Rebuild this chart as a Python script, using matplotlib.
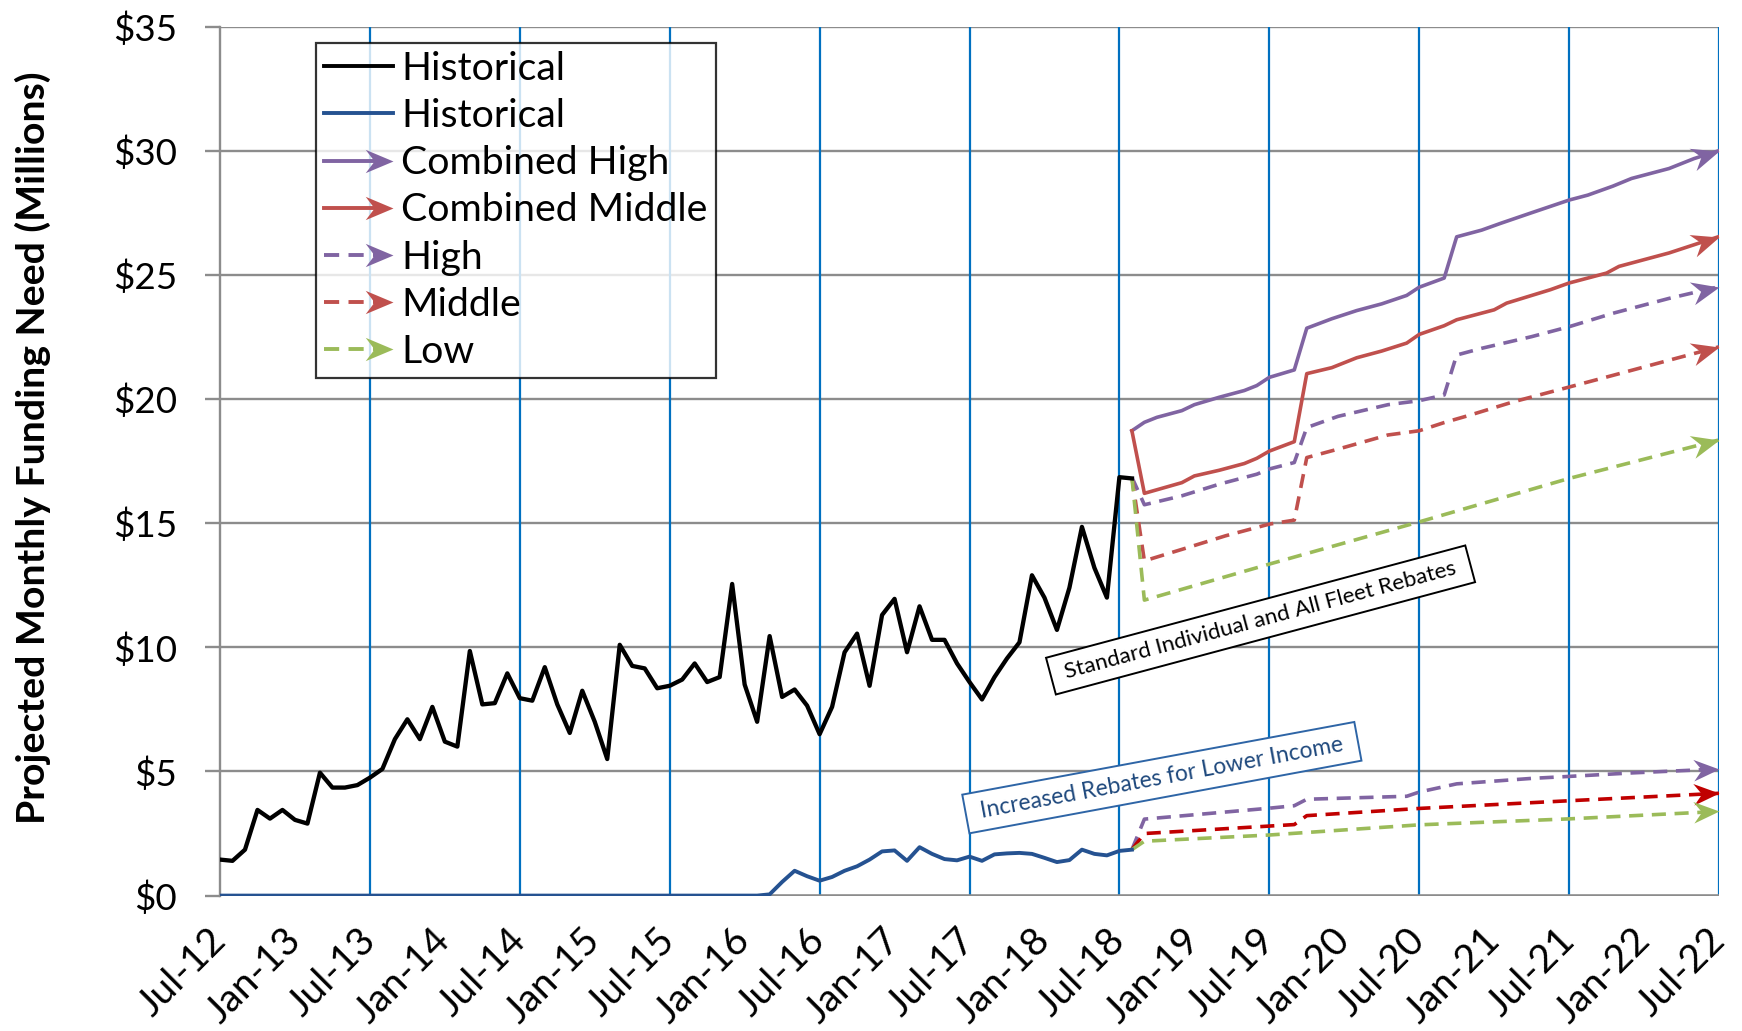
import numpy as np
import matplotlib
matplotlib.use('Agg')
import matplotlib.pyplot as plt
from matplotlib.path import Path
from matplotlib.markers import MarkerStyle
from matplotlib.transforms import Affine2D
from matplotlib.lines import Line2D
from matplotlib.legend_handler import HandlerBase

plt.rcParams['font.family'] = ['Lato', 'DejaVu Sans']

# ---------------- data ----------------
tick_labels = ['Jul-12', 'Jan-13', 'Jul-13', 'Jan-14', 'Jul-14', 'Jan-15', 'Jul-15',
               'Jan-16', 'Jul-16', 'Jan-17', 'Jul-17', 'Jan-18', 'Jul-18', 'Jan-19',
               'Jul-19', 'Jan-20', 'Jul-20', 'Jan-21', 'Jul-21', 'Jan-22', 'Jul-22']

# monthly history, Jul-12 .. Aug-18 (month index 0..73)
hist_black = [1.45, 1.4, 1.85, 3.45, 3.1, 3.45, 3.05, 2.9, 4.95, 4.35, 4.35, 4.45,
              4.75, 5.1, 6.3, 7.1, 6.3, 7.6, 6.2, 6.0, 9.85, 7.7, 7.75, 8.95,
              7.95, 7.85, 9.2, 7.7, 6.55, 8.25, 7.0, 5.5, 10.1, 9.25, 9.15, 8.35,
              8.45, 8.7, 9.35, 8.6, 8.8, 12.55, 8.5, 7.0, 10.45, 8.0, 8.3, 7.65,
              6.5, 7.6, 9.8, 10.55, 8.45, 11.3, 11.95, 9.8, 11.65, 10.3, 10.3, 9.35,
              8.6, 7.9, 8.8, 9.55, 10.2, 12.9, 12.0, 10.7, 12.4, 14.85, 13.2, 12.0,
              16.85, 16.8]
hist_blue = [0.0] * 44 + [0.05, 0.55, 1.0, 0.78, 0.6, 0.75, 1.0, 1.18, 1.45, 1.78,
                          1.82, 1.4, 1.95, 1.68, 1.47, 1.42, 1.57, 1.4, 1.66, 1.7,
                          1.72, 1.68, 1.52, 1.35, 1.43, 1.85, 1.68, 1.62, 1.8, 1.85]

# projections (month index, $M)
comb_high_m = [73, 74, 75, 77, 78, 80, 82, 83, 84, 86, 87, 89, 91, 93, 95, 96, 98,
               99, 101, 102.5, 105, 108, 109.5, 111.5, 113, 116, 118, 120]
comb_high_v = [18.72, 19.06, 19.26, 19.53, 19.77, 20.07, 20.34, 20.54, 20.87, 21.17,
               22.85, 23.23, 23.56, 23.83, 24.17, 24.5, 24.87,
               26.53, 26.8, 27.07, 27.5, 28.01, 28.21, 28.57, 28.88, 29.28, 29.68, 30.0]

comb_mid_m = [73, 74, 77, 78, 80, 82, 83, 84, 86, 87, 89, 91, 93, 95, 96, 98, 99,
              102, 103, 106.5, 108, 111, 112, 116, 118, 120]
comb_mid_v = [18.72, 16.2, 16.63, 16.9, 17.13, 17.4, 17.61, 17.9, 18.28, 21.02,
              21.26, 21.66, 21.93, 22.25, 22.6, 22.95, 23.19, 23.59, 23.86, 24.4,
              24.67, 25.07, 25.34, 25.88, 26.21, 26.54]

high_m = [73, 74, 77, 80, 83, 84, 86, 87, 89.5, 93.5, 96, 98, 99, 101, 105, 108,
          111.5, 116, 120]
high_v = [16.85, 15.74, 16.1, 16.57, 16.97, 17.18, 17.44, 18.85, 19.3, 19.77, 19.93,
          20.16, 21.77, 22.04, 22.51, 22.91, 23.45, 24.05, 24.52]

mid_m = [73, 74, 77.5, 80.5, 84, 86, 87, 89.5, 93.5, 96, 98, 100, 103.5, 108, 111.5,
         116, 120]
mid_v = [16.85, 13.48, 14.02, 14.49, 14.96, 15.12, 17.64, 17.98, 18.55, 18.72, 19.05,
         19.34, 19.88, 20.48, 20.95, 21.56, 22.1]

low_m = [73, 74, 84, 96, 108, 120]
low_v = [16.85, 11.9, 13.35, 15.05, 16.8, 18.35]

li_high_m = [73, 74, 84, 86, 87, 95, 96, 97, 99, 105, 108, 113, 120]
li_high_v = [1.85, 3.08, 3.52, 3.62, 3.88, 4.0, 4.17, 4.28, 4.5, 4.72, 4.8, 4.94, 5.1]

li_mid_m = [73, 74, 84, 86, 87, 96, 108, 120]
li_mid_v = [1.85, 2.5, 2.8, 2.86, 3.22, 3.51, 3.82, 4.12]

li_low_m = [73, 74, 84, 96, 108, 120]
li_low_v = [1.85, 2.19, 2.44, 2.85, 3.09, 3.39]

# ---------------- style ----------------
PURPLE = '#8064A2'
RED = '#C0504D'
GREEN = '#9BBB59'
DARKRED = '#C00000'
NAVY = '#255291'
GRIDBLUE = '#0070C0'
GRAY = '#8C8C8C'
DASH = (3.9, 2.4)

W, H = 1742, 1031
fig = plt.figure(figsize=(W / 100, H / 100), dpi=100)
ax = fig.add_axes([220 / W, 1 - 895.6 / H, (1719 - 220) / W, (895.6 - 26.5) / H])
ax.set_xlim(0, 120)
ax.set_ylim(0, 35)

# grid
ax.set_yticks(np.arange(0, 36, 5))
ax.set_yticklabels(['$%d' % v for v in range(0, 36, 5)])
for yv in range(5, 36, 5):
    ax.axhline(yv, color=GRAY, lw=1.7, zorder=1)
ax.vlines(np.arange(12, 121, 12), 0, 35, color=GRIDBLUE, lw=1.6, zorder=1.5)
ax.axhline(0, color=GRAY, lw=2.6, zorder=1.6)

for s in ['top', 'right', 'bottom']:
    ax.spines[s].set_visible(False)
ax.spines['left'].set_color(GRAY)
ax.spines['left'].set_linewidth(1.7)
ax.spines['left'].set_zorder(1.6)

ax.set_xticks(np.arange(0, 121, 6))
ax.set_xticklabels(tick_labels, rotation=45, ha='right', va='center',
                   rotation_mode='anchor')
ax.set_xticks(np.arange(0, 121, 24), minor=True)
ax.tick_params(axis='x', which='major', length=0, pad=28, labelsize=28)
ax.tick_params(axis='x', which='minor', length=11, width=1.7, color=GRAY)
ax.tick_params(axis='y', length=11, width=1.7, color=GRAY, pad=20, labelsize=26.5)

fig.text(33 / W, 0.566, 'Projected Monthly Funding Need (Millions)', rotation=90,
         ha='center', va='center', fontsize=28.3, fontweight='bold')


def arrow_marker(angle, half=0.42, notch=0.68):
    verts = [(0, 0), (-1, half), (-notch, 0), (-1, -half), (0, 0)]
    codes = [Path.MOVETO, Path.LINETO, Path.LINETO, Path.LINETO, Path.CLOSEPOLY]
    return MarkerStyle(Path(verts, codes), transform=Affine2D().rotate_deg(angle))


def series(xm, yv, color, dashed, lw, arrow_ms=None, z=3):
    kw = dict(color=color, lw=lw, zorder=z, solid_joinstyle='round',
              dash_capstyle='butt')
    ln, = ax.plot(xm, yv, **kw)
    if dashed:
        ln.set_dashes(DASH)
    if arrow_ms:
        p1, p2 = ax.transData.transform([(xm[-2], yv[-2]), (xm[-1], yv[-1])])
        ang = np.degrees(np.arctan2(p2[1] - p1[1], p2[0] - p1[0]))
        ax.plot([xm[-1]], [yv[-1]], ls='none', marker=arrow_marker(ang), ms=arrow_ms,
                color=color, mew=0, zorder=z + 0.1, clip_on=False)


months = np.arange(len(hist_black))
series(months, hist_black, 'black', False, 3.1, z=4)
series(np.arange(len(hist_blue)), hist_blue, NAVY, False, 2.8, z=4)
series(comb_high_m, comb_high_v, PURPLE, False, 2.6, 40)
series(comb_mid_m, comb_mid_v, RED, False, 2.6, 40)
series(high_m, high_v, PURPLE, True, 2.6, 40)
series(mid_m, mid_v, RED, True, 2.6, 40)
series(low_m, low_v, GREEN, True, 2.6, 40)
series(li_high_m, li_high_v, PURPLE, True, 2.6, 37)
series(li_mid_m, li_mid_v, DARKRED, True, 2.6, 37)
series(li_low_m, li_low_v, GREEN, True, 2.6, 37)

# annotations
ax.text(83.3, 11.1, ' Standard Individual and All Fleet Rebates ', rotation=15,
        rotation_mode='anchor', ha='center', va='center', fontsize=16.2,
        color='black', zorder=6,
        bbox=dict(boxstyle='square,pad=0.4', fc='white', ec='black', lw=1.4))
ax.text(75.4, 4.75, ' Increased Rebates for Lower Income ', rotation=10.5,
        rotation_mode='anchor', ha='center', va='center', fontsize=16.5,
        color='#1F497D', zorder=6,
        bbox=dict(boxstyle='square,pad=0.4', fc='white', ec='#2E65A6', lw=1.4))


# legend
class ArrowHandler(HandlerBase):
    def create_artists(self, legend, orig, xdescent, ydescent, width, height,
                       fontsize, trans):
        y = height / 2 - ydescent
        x0 = -xdescent
        x1 = x0 + width
        arrow = getattr(orig, '_arrow', False)
        ln = Line2D([x0, x1 - (6 if arrow else 0)], [y, y], color=orig.get_color(),
                    lw=orig.get_linewidth())
        if getattr(orig, '_dashed', False):
            ln.set_dashes(DASH)
        ln.set_transform(trans)
        arts = [ln]
        if arrow:
            m = Line2D([x1], [y], ls='none', marker=arrow_marker(0), ms=40,
                       color=orig.get_color(), mew=0)
            m.set_transform(trans)
            arts.append(m)
        return arts


leg_items = [('Historical', 'black', False, False),
             ('Historical', NAVY, False, False),
             ('Combined High', PURPLE, False, True),
             ('Combined Middle', RED, False, True),
             ('High', PURPLE, True, True),
             ('Middle', RED, True, True),
             ('Low', GREEN, True, True)]
handles = []
for lab, c, d, a in leg_items:
    h = Line2D([], [], color=c, lw=2.8)
    h._dashed = d
    h._arrow = a
    handles.append(h)
leg = fig.legend(handles, [i[0] for i in leg_items], loc='upper left',
                 bbox_to_anchor=(316 / W, 1 - 43 / H), fontsize=28.3, frameon=True,
                 fancybox=False, borderaxespad=0, borderpad=0.2, handlelength=1.75,
                 handletextpad=0.22, labelspacing=0.285,
                 handler_map={Line2D: ArrowHandler()})
leg.get_frame().set_edgecolor('black')
leg.get_frame().set_linewidth(1.6)
leg.set_zorder(10)

fig.savefig('out.png', dpi=100)
